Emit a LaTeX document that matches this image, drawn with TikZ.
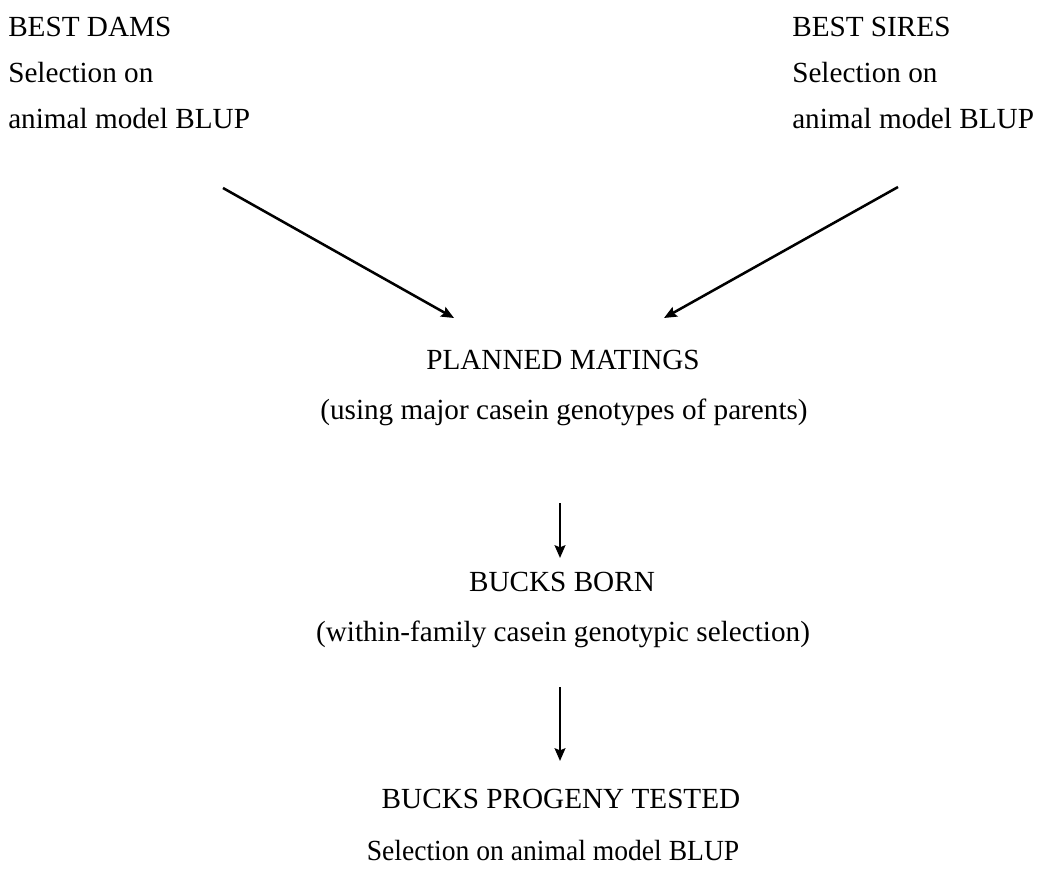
\documentclass[tikz,border=0pt]{standalone}
\usepackage{fontspec}
\setmainfont{Liberation Serif}
\usetikzlibrary{arrows.meta}
\tikzset{
  lbl/.style={inner sep=0pt, font=\fontsize{21.9}{26}\selectfont},
  lleft/.style={lbl, anchor=base west},
  lmid/.style={lbl, anchor=base},
  flow/.style={line width=1.9pt, -{Stealth[length=9.5pt,width=8pt,inset=1.5pt]}}
}
\begin{document}
\begin{tikzpicture}[x=0.75pt,y=-0.75pt]
\useasboundingbox (0,0) rectangle (1041,870);
% left column
\node[lleft] (d1) at (8,37) {BEST DAMS};
\node[lleft] (d2) at (8,83) {Selection on};
\node[lleft] (d3) at (8,128) {animal model BLUP};
% right column
\node[lleft] (s1) at (792,37) {BEST SIRES};
\node[lleft] (s2) at (792,83) {Selection on};
\node[lleft] (s3) at (792,128) {animal model BLUP};
% centre
\node[lmid] (pm1) at (563,369) {PLANNED MATINGS};
\node[lmid] (pm2) at (564,419) {(using major casein genotypes of parents)};
\node[lmid] (bb1) at (562,591) {BUCKS BORN};
\node[lmid] (bb2) at (563,641) {(within-family casein genotypic selection)};
\node[lmid] (bp1) at (561,808) {BUCKS PROGENY TESTED};
\node[lmid] (bp2) at (553,860) {\scalebox{0.945}[1]{Selection on animal model BLUP}};
% connector ends
\coordinate (a1s) at (223,188);
\coordinate (a1e) at (454,318);
\coordinate (a2s) at (898,187);
\coordinate (a2e) at (664,318);
\coordinate (a3s) at (560,503);
\coordinate (a3e) at (560,558);
\coordinate (a4s) at (560,687);
\coordinate (a4e) at (560,761);
\draw[flow] (a1s) -- (a1e);
\draw[flow] (a2s) -- (a2e);
\draw[flow] (a3s) -- (a3e);
\draw[flow] (a4s) -- (a4e);
\end{tikzpicture}
\end{document}
